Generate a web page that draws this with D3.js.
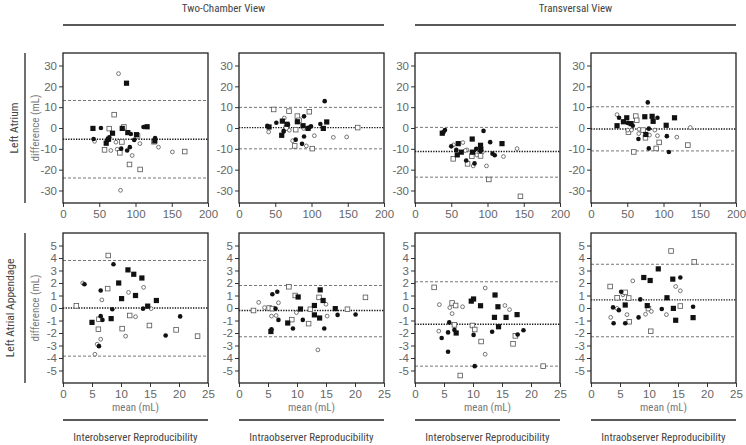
<!DOCTYPE html>
<html><head><meta charset="utf-8">
<script src="https://cdn.jsdelivr.net/npm/d3@7/dist/d3.min.js"></script>
<style>
body{margin:0;background:#fff;}
svg{display:block;font-family:"Liberation Sans Narrow","Arial Narrow","Roboto Condensed","Liberation Sans",sans-serif;}
</style></head>
<body><svg id="c" width="746" height="445"></svg>
<script>
// ---- DATA ----
const columnTitles = ["Two-Chamber View", "Transversal View"];
const rowTitles = ["Left Atrium", "Left Atrial Appendage"];
const footerTitles = ["Interobserver Reproducibility", "Intraobserver Reproducibility", "Interobserver Reproducibility", "Intraobserver Reproducibility"];
const yAxisTitle = "difference (mL)";
const xAxisTitle = "mean (mL)";
const xTicksTop = [0, 50, 100, 150, 200];
const yTicksTop = [-30, -20, -10, 0, 10, 20, 30];
const xTicksBottom = [0, 5, 10, 15, 20, 25];
const yTicksBottom = [-5, -4, -3, -2, -1, 0, 1, 2, 3, 4, 5];

// per panel: mean difference, upper and lower limits of agreement
const meanLines   = [-5.4, 0.2, -11.3, -0.5, 0.0, -0.2, -1.3, 0.65];
const upperLimits = [13.2, 9.9, 0.3, 10.2, 3.8, 1.8, 2.1, 3.5];
const lowerLimits = [-24.0, -10.0, -23.6, -11.0, -3.85, -2.3, -4.65, -2.3];

// points: [mean, difference, marker]  fc=filled circle, fs=filled square, oc=open circle, os=open square
const la2chInter = [[76.6,26.1,'oc'],[87.6,21.5,'fs'],[70.6,6.4,'os'],[41.3,-0.2,'fs'],[52.3,0,'fc'],[63.8,-0.3,'os'],[81.7,-0.2,'fs'],[84,0.5,'os'],[111,0.5,'fc'],[116,0.6,'fs'],[89.4,-2.2,'fs'],[93.6,-2.9,'fc'],[101.4,-3.2,'fs'],[102.8,-3.8,'os'],[68.3,-2.5,'fs'],[42.2,-5.3,'fc'],[43.6,-6.4,'oc'],[63.8,-4.5,'fc'],[62.8,-5.4,'fs'],[61,-5.9,'fc'],[59.6,-7.3,'fs'],[98.2,-5.7,'fc'],[126.6,-6.2,'fs'],[127,-4.8,'fc'],[125.5,-6.6,'os'],[73,-6.8,'oc'],[81.2,-6.7,'os'],[106,-7.5,'oc'],[131.7,-9.2,'oc'],[66,-10.8,'oc'],[57.3,-10.5,'os'],[74.8,-10.2,'oc'],[78.4,-11.9,'os'],[80.3,-9.9,'fc'],[92.2,-9.2,'fc'],[88.5,-10.8,'fc'],[95.4,-13.2,'oc'],[91.7,-17.5,'os'],[106.4,-19.9,'os'],[150.9,-11.5,'oc'],[167.9,-11.3,'os'],[79.4,-29.9,'oc']];
const la2chIntra = [[39,1.0,'fc'],[41.4,0.5,'fs'],[40.9,-1.9,'oc'],[47.8,8.9,'os'],[51.5,2.5,'fc'],[59.8,3.3,'fs'],[62.5,4.8,'oc'],[69,8.1,'os'],[80.5,5.7,'os'],[82.8,3.7,'os'],[80.5,3.0,'fs'],[89.7,5.6,'fc'],[97,7.8,'os'],[118.2,12.9,'fc'],[112.2,1.9,'fc'],[121,2.9,'fs'],[66.2,1.8,'fs'],[67.6,1.6,'fc'],[65.3,0,'os'],[88.3,1.1,'fs'],[99.3,0.8,'fc'],[97,0.2,'fc'],[95.2,-0.2,'fs'],[89.2,-0.2,'oc'],[116.3,-0.2,'fs'],[163.7,0.2,'os'],[61.6,-1.4,'fc'],[61.6,-1.9,'oc'],[69.4,-1.1,'oc'],[78.2,-0.8,'os'],[58.9,-3.5,'fs'],[78.2,-5.6,'fc'],[74,-6.1,'oc'],[89.7,-4.1,'fc'],[103.9,-3.7,'oc'],[130.1,-4.5,'oc'],[148.5,-4.3,'oc'],[76.8,-8.6,'os'],[86.9,-7.6,'fc'],[92.9,-8.6,'oc'],[101.1,-9.9,'os']];
const laTransInter = [[37.6,-2.5,'fs'],[41.3,-1.0,'fc'],[39.4,-1.9,'fc'],[94.5,-1.4,'fc'],[78.9,-5.3,'fs'],[103.7,-6.8,'fc'],[120,-7.5,'fs'],[59.6,-7.5,'fs'],[50,-8.8,'fc'],[53,-8.1,'oc'],[66,-7.0,'oc'],[90.4,-8.3,'fs'],[84.4,-10.0,'fc'],[90.8,-10.2,'fs'],[71.6,-10.5,'oc'],[56.9,-10.5,'fc'],[69.3,-10.8,'oc'],[140.8,-9.9,'oc'],[63.8,-11.6,'fs'],[79.4,-11.6,'fs'],[90.4,-11.1,'fc'],[93,-11.5,'oc'],[106.9,-12.3,'fc'],[110,-13.1,'fc'],[58.3,-12.9,'fs'],[78.4,-13.5,'os'],[85.3,-12.9,'oc'],[90.4,-13.4,'os'],[122,-13.7,'oc'],[52.8,-14.8,'os'],[70.6,-15.6,'fc'],[72.5,-17.2,'os'],[82.1,-17.0,'fc'],[80.3,-18.2,'oc'],[98.6,-18.2,'oc'],[101.8,-24.7,'os'],[145.4,-32.8,'os']];
const laTransIntra = [[78.3,12.3,'fc'],[35.9,6.4,'oc'],[38.7,4.9,'fc'],[44.7,3.0,'fs'],[49.3,4.9,'fs'],[50.7,2.4,'fc'],[55.3,2.1,'fs'],[57.6,1.1,'fc'],[35.9,1.1,'fs'],[61.8,5.7,'os'],[63.1,3.7,'os'],[74.2,5.4,'fs'],[84.3,5.6,'fs'],[91.7,4.9,'fc'],[85.7,3.2,'fs'],[115.2,4.9,'fs'],[103.7,1.3,'fs'],[51.6,-2.0,'os'],[50.7,-1.0,'oc'],[55.8,-1.0,'oc'],[66.4,-0.6,'oc'],[71.9,-1.0,'os'],[79.7,-0.3,'fc'],[88,-1.0,'oc'],[136.9,0.2,'oc'],[65.9,-2.7,'oc'],[80.6,-3.4,'oc'],[75.1,-4.7,'os'],[75.6,-3.1,'fs'],[65.4,-5.3,'fc'],[91.7,-3.7,'oc'],[104.6,-3.9,'fc'],[118.4,-4.4,'oc'],[94,-6.9,'os'],[89.9,-9.8,'os'],[79.7,-9.8,'fc'],[59,-11.5,'os'],[107.4,-11.5,'fc'],[133.6,-8.2,'os']];
const laa2chInter = [[2.3,0.17,'os'],[3.4,2.0,'oc'],[3.7,1.9,'fc'],[5.0,-1.15,'fs'],[6.5,1.4,'fc'],[6.7,0.65,'oc'],[7.8,4.2,'os'],[8.7,3.5,'fc'],[7.7,1.55,'os'],[9.6,2.0,'fs'],[11.2,3.05,'fs'],[12.2,2.7,'fs'],[13.6,2.4,'fs'],[10.1,0.75,'fs'],[12.5,1.0,'fs'],[11.3,1.25,'oc'],[13.9,1.65,'oc'],[8.5,-0.1,'fc'],[13.8,-0.05,'fc'],[14.6,0.15,'fs'],[15.2,-0.05,'oc'],[16.1,0.6,'fs'],[6.5,-0.65,'fc'],[6.2,-0.9,'os'],[6.8,-0.95,'fc'],[8.3,-0.85,'fs'],[11.5,-0.6,'os'],[12.5,-0.7,'oc'],[6.1,-1.7,'os'],[10.2,-1.65,'os'],[14.9,-1.4,'os'],[10.8,-2.25,'oc'],[6.5,-2.5,'oc'],[5.9,-2.9,'oc'],[6.2,-3.05,'fc'],[5.5,-3.7,'oc'],[17.7,-2.2,'fc'],[20.2,-0.67,'fc'],[19.5,-1.75,'os'],[23.2,-2.25,'os']];
const laa2chIntra = [[2.5,-0.2,'os'],[3.4,0.45,'oc'],[4.4,0.03,'oc'],[5.2,0,'os'],[5.75,-0.05,'os'],[5.75,1.1,'fc'],[6.6,1.3,'fc'],[6.8,0.42,'oc'],[6.3,-0.05,'fc'],[5.6,-0.65,'oc'],[6.4,-0.6,'oc'],[6.8,-0.95,'fc'],[5.6,-1.7,'fc'],[5.5,-1.88,'fs'],[8.6,1.7,'os'],[9.7,1.0,'os'],[10.2,0.88,'fs'],[9.9,-0.37,'oc'],[9.1,-0.93,'os'],[8.4,-1.2,'fs'],[9.3,-1.64,'fc'],[10.6,-0.08,'fs'],[11.0,-0.95,'fc'],[12.0,-1.25,'os'],[12.3,-0.1,'os'],[13.8,0.85,'os'],[14.0,1.45,'fs'],[14.5,0.6,'fs'],[15.0,0.3,'oc'],[13.0,0.2,'fs'],[13.0,-0.55,'fs'],[13.9,-0.8,'fs'],[15.2,-0.65,'oc'],[14.7,-1.64,'fc'],[13.6,-3.35,'oc'],[16.6,-0.05,'fs'],[17.0,-0.55,'fc'],[18.7,-0.1,'os'],[20.1,-0.52,'fc'],[21.8,0.85,'os']];
const laaTransInter = [[3.3,1.65,'os'],[4.2,0.27,'oc'],[4.6,-2.4,'fc'],[4.1,-1.85,'oc'],[6.0,0.03,'oc'],[6.4,0.4,'os'],[7.0,0.2,'os'],[8.2,0.1,'oc'],[6.4,-0.45,'oc'],[5.9,-1.15,'fc'],[6.8,-1.35,'os'],[6.8,-1.75,'fc'],[7.1,-2.0,'fs'],[5.7,-1.95,'fc'],[5.7,-3.5,'fc'],[7.8,-5.4,'os'],[9.7,0.55,'fs'],[10.1,0.72,'fs'],[11.3,0.18,'fs'],[12.1,1.6,'oc'],[9.9,-1.4,'os'],[10.3,-1.72,'os'],[10.1,-2.15,'fc'],[10.3,-4.65,'fc'],[11.4,-2.68,'os'],[12.1,-3.7,'oc'],[13.8,1.04,'fs'],[14.3,0.1,'fs'],[13.7,-0.75,'fs'],[14.4,-1.5,'fs'],[13.3,-1.9,'fc'],[15.5,0.2,'oc'],[16.3,-0.13,'oc'],[15.7,-0.75,'fs'],[17.6,-0.53,'fs'],[17.3,-2.23,'os'],[16.9,-2.87,'os'],[17.7,-2.12,'fc'],[18.7,-1.78,'fc'],[22.1,-4.65,'os']];
const laaTransIntra = [[3.3,1.72,'os'],[3.4,-0.75,'oc'],[3.8,0.05,'fc'],[3.9,-1.22,'fc'],[4.5,0.82,'os'],[4.5,-0.03,'oc'],[4.8,-0.17,'fc'],[5.2,1.3,'fc'],[5.5,1.06,'oc'],[5.9,1.25,'os'],[5.9,0.24,'fs'],[5.9,-1.22,'fc'],[6.2,-0.53,'oc'],[6.5,0.8,'os'],[6.6,-1.1,'os'],[7.2,2.17,'oc'],[8.2,-0.75,'fc'],[8.5,0.69,'fc'],[9.1,2.44,'fs'],[9.7,0.19,'fs'],[9.4,-0.5,'oc'],[9.9,-0.05,'os'],[10.4,-0.27,'oc'],[10.2,2.2,'fs'],[10.3,-1.86,'os'],[11.6,3.13,'fs'],[12.2,-0.08,'fc'],[13.0,-0.53,'oc'],[13.1,0.82,'fs'],[13.8,4.56,'os'],[14.1,2.31,'fs'],[14.2,-0.03,'fs'],[14.6,-0.98,'fs'],[14.6,1.72,'oc'],[15.4,1.38,'oc'],[15.4,2.44,'fc'],[15.4,0.16,'os'],[17.8,3.69,'os'],[17.6,0.1,'fc'],[17.6,-0.77,'fs']];

const panelData = [la2chInter, la2chIntra, laTransInter, laTransIntra, laa2chInter, laa2chIntra, laaTransInter, laaTransIntra];

// ---- LAYOUT ----
const svg = d3.select("#c");
const colX = [63, 239, 415, 591];
const pw = 145, ph = 150;
const rowY = [53, 233];

// column titles and lines
[[0,1],[2,3]].forEach((pair, i) => {
  const x0 = colX[pair[0]], x1 = colX[pair[1]] + pw;
  svg.append("text").attr("x", (x0 + x1) / 2).attr("y", 12).attr("text-anchor", "middle")
    .attr("font-size", 11).attr("fill", "#444").text(columnTitles[i]);
  svg.append("line").attr("x1", x0).attr("x2", x1).attr("y1", 25).attr("y2", 25)
    .attr("stroke", "#222").attr("stroke-width", 1.3);
});

// row titles
rowTitles.forEach((t, r) => {
  const cy = rowY[r] + ph / 2;
  svg.append("text").attr("transform", `translate(${r === 0 ? 18 : 14},${cy}) rotate(-90)`)
    .attr("text-anchor", "middle").attr("font-size", 11.5).attr("fill", "#444").text(t);
  svg.append("line").attr("x1", 25).attr("x2", 25).attr("y1", rowY[r]).attr("y2", rowY[r] + ph)
    .attr("stroke", "#222").attr("stroke-width", 1.3);
});

// footers
colX.forEach((x0, c) => {
  svg.append("line").attr("x1", x0).attr("x2", x0 + pw).attr("y1", 420).attr("y2", 420)
    .attr("stroke", "#222").attr("stroke-width", 1.3);
  svg.append("text").attr("x", x0 + pw / 2).attr("y", 441).attr("text-anchor", "middle")
    .attr("font-size", 11).attr("fill", "#444").text(footerTitles[c]);
});

panelData.forEach((pts, i) => {
  const r = Math.floor(i / 4), c = i % 4;
  const g = svg.append("g").attr("transform", `translate(${colX[c]},${rowY[r]})`);
  const x = d3.scaleLinear().domain(r === 0 ? [0, 200] : [0, 25]).range([0, pw]);
  const y = d3.scaleLinear().domain(r === 0 ? [-36, 36] : [-6, 6]).range([ph, 0]);

  const ya = g.append("g").call(d3.axisLeft(y).tickValues(r === 0 ? yTicksTop : yTicksBottom)
    .tickSize(4).tickPadding(2).tickFormat(d => String(d)));
  const xa = g.append("g").attr("transform", `translate(0,${ph})`)
    .call(d3.axisBottom(x).tickValues(r === 0 ? xTicksTop : xTicksBottom)
    .tickSize(4).tickPadding(3).tickFormat(d => String(d)));
  [ya, xa].forEach(a => {
    a.select(".domain").remove();
    a.selectAll("line").attr("stroke", "#333");
    a.selectAll("text").attr("font-size", 11.5).attr("fill", "#666")
      .attr("font-family", '"Liberation Sans Narrow","Arial Narrow",sans-serif');
  });

  // limits
  [upperLimits[i], lowerLimits[i]].forEach(v => {
    g.append("line").attr("x1", 0).attr("x2", pw).attr("y1", y(v)).attr("y2", y(v))
      .attr("stroke", "#777").attr("stroke-width", 1).attr("stroke-dasharray", "3,2");
  });
  g.append("line").attr("x1", 0).attr("x2", pw).attr("y1", y(meanLines[i])).attr("y2", y(meanLines[i]))
    .attr("stroke", "#111").attr("stroke-width", 1.4).attr("stroke-dasharray", "1.3,1.3");

  // points
  const open = pts.filter(d => d[2][0] === 'o');
  const filled = pts.filter(d => d[2][0] === 'f');
  [open, filled].forEach(set => {
    set.forEach(d => {
      const px = x(d[0]), py = y(d[1]);
      if (d[2] === 'fc') {
        g.append("circle").attr("cx", px).attr("cy", py).attr("r", 2.3).attr("fill", "#111");
      } else if (d[2] === 'fs') {
        g.append("rect").attr("x", px - 2.6).attr("y", py - 2.6).attr("width", 5.2).attr("height", 5.2).attr("fill", "#111");
      } else if (d[2] === 'oc') {
        g.append("circle").attr("cx", px).attr("cy", py).attr("r", 1.9).attr("fill", "#fff")
          .attr("stroke", "#555").attr("stroke-width", 0.8);
      } else {
        g.append("rect").attr("x", px - 2.3).attr("y", py - 2.3).attr("width", 4.6).attr("height", 4.6)
          .attr("fill", "#fff").attr("stroke", "#555").attr("stroke-width", 0.8);
      }
    });
  });

  // frame
  g.append("rect").attr("width", pw).attr("height", ph).attr("fill", "none")
    .attr("stroke", "#222").attr("stroke-width", 1.3);

  if (c === 0) {
    g.append("text").attr("transform", `translate(-24,${ph / 2}) rotate(-90)`)
      .attr("text-anchor", "middle").attr("font-size", 11).attr("fill", "#777").text(yAxisTitle);
  }
  if (r === 1) {
    g.append("text").attr("x", pw / 2).attr("y", ph + 28).attr("text-anchor", "middle")
      .attr("font-size", 11).attr("fill", "#777").text(xAxisTitle);
  }
});
</script></body></html>
